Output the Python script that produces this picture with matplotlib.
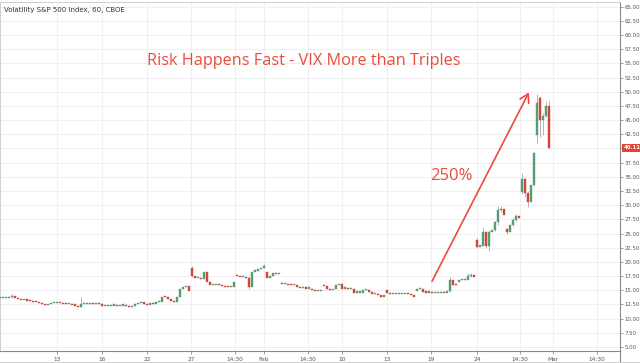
import matplotlib
matplotlib.use("Agg")
import matplotlib.pyplot as plt
from matplotlib.lines import Line2D

# hourly-ish closes (left to right)
closes = [
    13.6, 13.6, 13.7, 13.8, 14.0, 13.7, 13.5, 13.3, 13.4, 13.2,
    13.1, 13.0, 12.9, 12.7, 12.5, 12.4, 12.5, 12.7, 12.8, 12.9,
    12.7, 12.6, 12.5, 12.5, 12.4, 12.3, 12.1, 12.5, 12.6, 12.6,
    12.6, 12.5, 12.6, 12.5, 12.2, 12.2, 12.2, 12.3, 12.3, 12.2,
    12.3, 12.3, 12.2, 12.1, 12.2, 12.6, 12.7, 13.0, 12.6, 12.4,
    12.8, 12.6, 13.0, 13.0, 13.9, 13.8, 13.4, 13.2, 13.0, 13.9,
    15.3, 15.6, 15.8, 14.8, 17.6, 17.1, 17.1, 17.0, 18.3, 16.5,
    15.9, 16.0, 16.1, 16.0, 15.8, 15.6, 15.5, 15.5, 16.5, 17.5,
    17.4, 17.4, 17.1, 15.6, 18.3, 18.4, 18.7, 19.0, 19.2, 17.2,
    17.6, 18.0, 17.9, 17.9, 16.1, 16.1, 16.0, 15.9, 16.0, 15.5,
    15.4, 15.4, 15.3, 15.3, 15.1, 14.9, 14.9, 15.0, 15.7, 15.3,
    15.1, 15.2, 15.9, 16.1, 15.3, 15.3, 15.2, 15.2, 14.6, 14.6,
    14.6, 15.0, 15.0, 14.7, 14.3, 14.3, 14.1, 13.9, 13.9, 14.5,
    14.3, 14.3, 14.3, 14.3, 14.4, 14.5, 14.3, 14.1, 13.9, 15.2,
    15.3, 14.7, 14.6, 14.6, 14.5, 14.5, 14.5, 14.6, 14.5, 14.8,
    16.9, 16.0, 15.9, 16.8, 16.8, 16.9, 17.5, 17.7, 17.4, 22.7,
    22.8, 25.3, 22.8, 25.3, 25.7, 27.0, 29.2, 29.4, 28.3, 25.2,
    26.5, 27.4, 28.1, 27.7, 34.7, 32.1, 30.6, 33.6, 39.2, 48.0,
    45.0, 45.8, 47.4, 40.11,
]

# opens that differ from the previous close (session gaps)
gap_opens = {64: 19.0, 79: 17.7, 89: 18.3, 94: 16.2, 108: 15.9, 129: 15.0,
             139: 14.8, 153: 16.5, 159: 23.9, 169: 25.8, 174: 32.4,
             179: 42.4, 180: 48.9, 183: 47.4}

# visible wicks (low, high)
wicks = {4: (13.6, 14.3), 27: (12.1, 13.8), 64: (17.4, 19.2), 83: (15.3, 17.3),
         88: (18.9, 19.6), 150: (14.7, 17.3), 156: (17.2, 18.0), 157: (17.3, 18.1),
         159: (22.4, 24.2), 161: (23.6, 26.2), 162: (22.5, 25.0), 163: (22.0, 25.6),
         165: (25.5, 27.3), 166: (26.5, 29.9), 167: (28.8, 29.8), 169: (24.9, 26.0),
         171: (26.3, 27.8), 172: (27.2, 28.5), 174: (32.0, 35.6), 175: (31.5, 34.8),
         176: (29.6, 32.3), 178: (33.3, 39.3), 179: (40.9, 49.6), 180: (42.0, 49.3),
         181: (42.4, 46.3), 182: (45.5, 48.3), 183: (40.0, 48.6)}

tick_pos = [19, 34, 49, 63.7, 78.3, 88, 102.7, 114, 129, 143.7, 159, 173.3, 184.3, 199]
tick_labels = ["13", "16", "22", "27", "14:30", "Feb", "14:30", "10", "13", "19",
               "24", "14:30", "Mar", "14:30"]
price_ticks = [5 + 2.5 * k for k in range(25)]
last_price = 40.11

up_col = "#5a9a74"
down_col = "#d0463b"
note_col = "#ec4b3c"

opens = []
for i, c in enumerate(closes):
    if i in gap_opens:
        opens.append(gap_opens[i])
    elif i == 0:
        opens.append(c)
    else:
        opens.append(closes[i - 1])

fig = plt.figure(figsize=(6.4, 3.63), dpi=100)
ax = fig.add_axes([0.0, 0.033, 0.969, 0.962])

for k in price_ticks:
    ax.axhline(k, color="#f0f0f3", lw=0.8, zorder=0)
for t in tick_pos:
    ax.axvline(t, color="#f0f0f3", lw=0.8, zorder=0)

for i, (o, c) in enumerate(zip(opens, closes)):
    col = up_col if c >= o else down_col
    if i in wicks:
        lo, hi = wicks[i]
        ax.vlines(i, lo, hi, color="#b5b5b5", lw=0.7, zorder=2)
    b = min(o, c)
    h = max(abs(c - o), 0.2)
    ax.bar(i, h, bottom=b, width=0.9, color=col, edgecolor=col, lw=0.3, zorder=3)

ax.set_xlim(0, 206.7)
ax.set_ylim(4.3, 65.85)
ax.yaxis.tick_right()
ax.set_yticks(price_ticks)
# the 40.00 label sits under the last-price tag
ax.set_yticklabels(["" if v == 40 else "%.2f" % v for v in price_ticks])
ax.set_xticks(tick_pos)
ax.set_xticklabels(tick_labels)
ax.tick_params(axis="y", labelsize=3.9, colors="#555555", length=2, width=0.4, pad=1)
ax.tick_params(axis="x", labelsize=4.2, colors="#555555", length=2, width=0.4, pad=2)
for s in ["top", "left"]:
    ax.spines[s].set_color("#c8c8c8")
    ax.spines[s].set_linewidth(0.6)
for s in ["right", "bottom"]:
    ax.spines[s].set_color("#8a8a8a")
    ax.spines[s].set_linewidth(0.8)

# last price tag
ax.annotate("%.2f" % last_price, xy=(1.0, last_price), xycoords=("axes fraction", "data"),
            xytext=(2.5, 0), textcoords="offset points", ha="left", va="center",
            fontsize=3.9, color="white", fontweight="bold",
            bbox=dict(boxstyle="square,pad=0.3", fc="#e0453a", ec="none"))

ax.text(0.006, 0.985, "Volatility S&P 500 Index, 60, CBOE", transform=ax.transAxes,
        fontsize=5, color="#333333", ha="left", va="top")
ax.text(0.49, 0.83, "Risk Happens Fast - VIX More than Triples", transform=ax.transAxes,
        fontsize=11.7, color=note_col, ha="center", va="center", family="Open Sans")
ax.text(150.3, 35.2, "250%", fontsize=12, color=note_col, ha="center", va="center",
        family="Open Sans")
ax.annotate("", xy=(176.3, 49.9), xytext=(144, 16.6),
            arrowprops=dict(arrowstyle="->,head_length=0.6,head_width=0.35",
                            color=note_col, lw=1.2, shrinkA=0, shrinkB=0))

fig.add_artist(Line2D([0.969, 0.969], [0, 0.033], color="#8a8a8a", lw=0.8))
fig.add_artist(Line2D([0, 1], [0.002, 0.002], color="#c8c8c8", lw=0.6))

fig.savefig("out.png", dpi=100)
